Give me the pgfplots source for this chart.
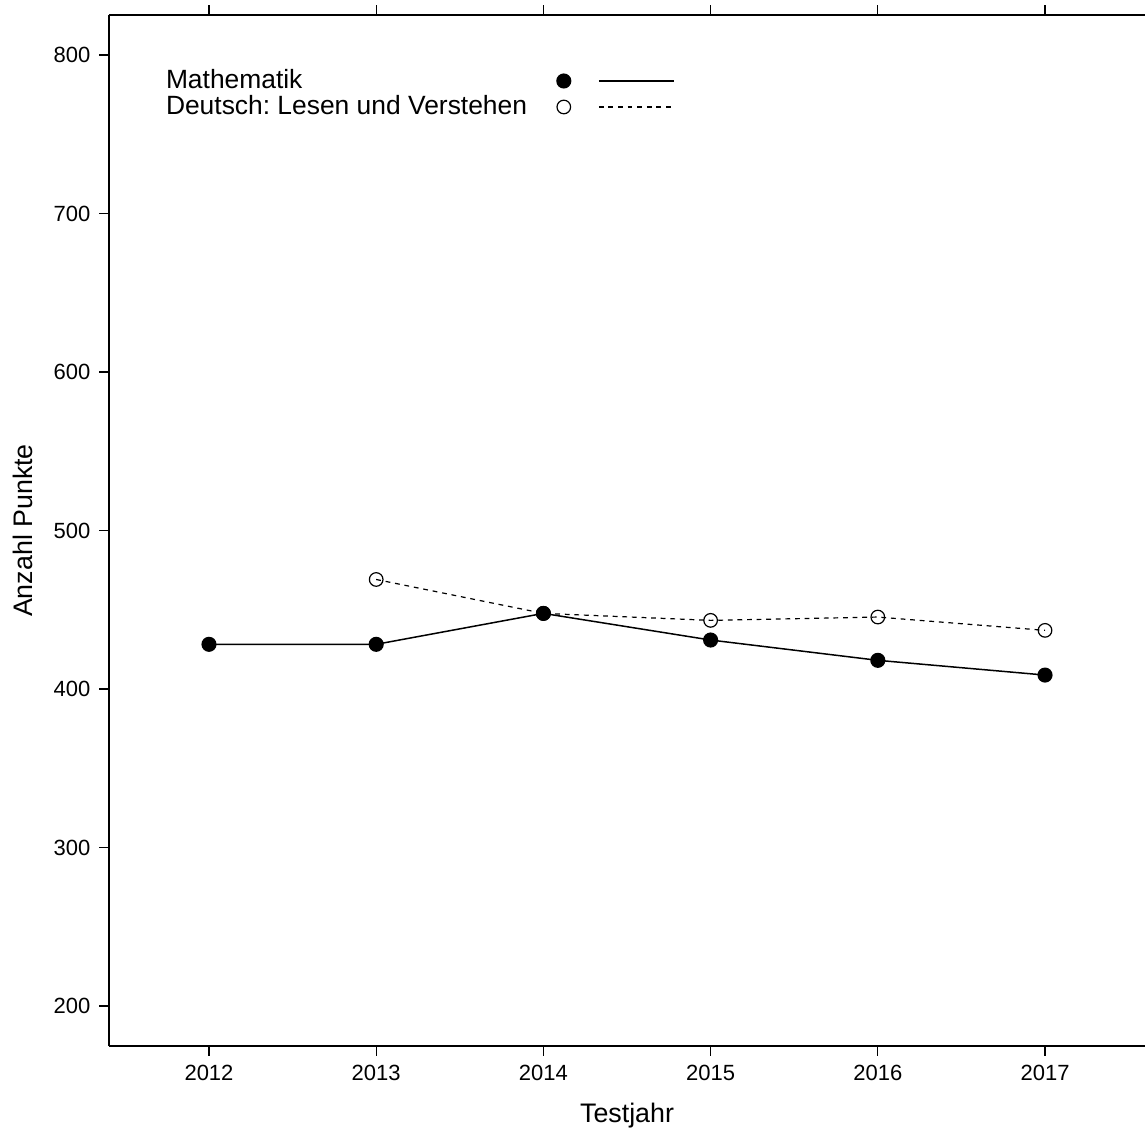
\documentclass[border=0pt]{standalone}
\usepackage{fontspec}
\setmainfont{Liberation Sans}
\usepackage{pgfplots}
\pgfplotsset{compat=1.18}
\frenchspacing

\begin{document}
\begin{tikzpicture}
  \begin{axis}[
      scale only axis,
      width=518pt, height=515.5pt,
      xmin=2011.402, xmax=2017.598,
      ymin=174.8, ymax=825.2,
      axis x line=box, axis y line*=left,
      axis line style={-, line width=0.6pt},
      xtick={2012,2013,...,2017}, ytick={200,300,...,800},
      tick align=outside, major tick length=4.8pt,
      tick style={line width=0.6pt, black},
      minor tick num=0,
      /pgf/number format/1000 sep={},
      /pgf/number format/assume math mode=true,
      ticklabel style={font=\fontsize{11}{13}\selectfont},
      xticklabel style={yshift=-1pt},
      yticklabel style={xshift=-1pt},
      xlabel={Testjahr}, ylabel={Anzahl Punkte},
      every axis x label/.style={at={(rel axis cs:0.5,0)}, anchor=base, yshift=-38pt,
        font=\fontsize{13.4}{16}\selectfont},
      every axis y label/.style={at={(rel axis cs:0,0.5)}, rotate=90, anchor=base, yshift=38pt,
        font=\fontsize{13.4}{16}\selectfont},
      legend plot pos=right,
      legend cell align=left,
      legend style={at={(rel axis cs:0,1)}, anchor=north west, xshift=28.5pt, yshift=-27.5pt,
        draw=none, fill=none, inner sep=0pt, outer sep=0pt, row sep=0pt, column sep=0pt,
        nodes={inner sep=0pt, outer sep=0pt, text height=9.4pt, text depth=3.6pt,
          font=\fontsize{13.2}{15}\selectfont}},
      legend image code/.code={
        \path (0pt,-1pt);
        \draw[#1] plot coordinates {(18pt,1pt)};
        \draw[#1, mark=none] (35.5pt,1pt) -- (73pt,1pt);
      },
    ]
    % Mathematik
    \addplot[black, solid, line width=0.75pt, mark=*, mark size=3.4pt,
      mark options={solid, fill=black}] coordinates {
      (2012,428.2) (2013,428.2) (2014,447.7) (2015,430.9) (2016,418.1) (2017,408.8)};
    % Deutsch
    \addplot[black, dash pattern=on 2.4pt off 2.4pt, line width=0.6pt, mark=o, mark size=3.4pt,
      mark options={solid, fill=white, line width=0.6pt}] coordinates {
      (2013,469.1) (2014,447.7) (2015,443.3) (2016,445.4) (2017,437.0)};
    % Mathematik dot at 2014 drawn on top
    \addplot[black, only marks, mark=*, mark size=3.4pt, forget plot] coordinates {(2014,447.7)};
    \legend{Mathematik, Deutsch: Lesen und Verstehen}
    \coordinate (ll) at (rel axis cs:0,0);
    \coordinate (ur) at (rel axis cs:1,1);
  \end{axis}
  \pgfresetboundingbox
  \path ([xshift=-54.5pt,yshift=-40.5pt]ll) rectangle ([yshift=7.5pt]ur);
\end{tikzpicture}
\end{document}
